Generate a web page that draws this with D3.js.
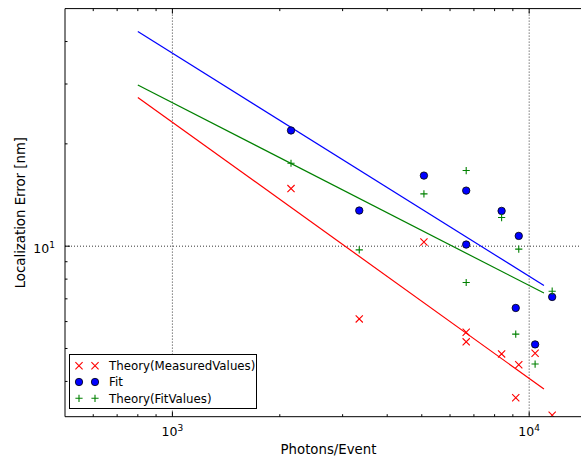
<!DOCTYPE html>
<html>
<head>
<meta charset="utf-8">
<script src="https://cdn.jsdelivr.net/npm/d3@7"></script>
<style>
  html, body { margin: 0; padding: 0; background: #fff; }
  svg { display: block; font-family: "DejaVu Sans", sans-serif; }
</style>
</head>
<body>
<svg id="chart" width="581" height="458"></svg>
<script>
// Photon counts per event for each measurement
const photons = [2150, 3340, 5070, 6660, 6660, 8370, 9350, 9170, 10390, 11600];
// Localization error [nm] per measurement
const theoryMeasured = [14.77, 6.11, 10.29, 5.58, 5.23, 4.82, 4.48, 3.58, 4.84, 3.18];
const fitValues      = [21.9, 12.73, 16.13, 14.57, 10.11, 12.70, 10.72, 6.58, 5.14, 7.09];
const theoryFit      = [17.54, 9.75, 14.25, 16.69, 7.82, 12.14, 9.80, 5.51, 4.50, 7.37];

// Power-law trend lines (end points in data units)
const lineX          = [800, 11000];
const lineFit        = [42.8, 7.66];
const lineTheoryFit  = [29.8, 7.28];
const lineTheoryMeas = [27.4, 3.80];

const xTickValues = [1000, 10000];
const xTickLabels = ["3", "4"];
const yTickValues = [10];
const yTickLabels = ["1"];

const svg = d3.select("#chart");
const pLeft = 65, pTop = 8.6, pRight = 592, pBottom = 416.7;

const x = d3.scaleLog().domain([500, 15000]).range([pLeft, pRight]);
const y = d3.scaleLog().domain([3.15, 50]).range([pBottom, pTop]);

svg.append("defs").append("clipPath").attr("id", "plotclip")
  .append("rect").attr("x", pLeft).attr("y", pTop)
  .attr("width", pRight - pLeft).attr("height", pBottom - pTop);

const plot = svg.append("g").attr("clip-path", "url(#plotclip)");

// dotted grid at major decades
plot.selectAll("line.gx").data(xTickValues).join("line")
  .attr("x1", d => x(d)).attr("x2", d => x(d))
  .attr("y1", pTop).attr("y2", pBottom)
  .attr("stroke", "#000").attr("stroke-width", 0.8).attr("stroke-dasharray", "1,2");
plot.selectAll("line.gy").data(yTickValues).join("line")
  .attr("y1", d => y(d)).attr("y2", d => y(d))
  .attr("x1", pLeft).attr("x2", pRight)
  .attr("stroke", "#000").attr("stroke-width", 0.8).attr("stroke-dasharray", "1,2");

// trend lines
const lines = [
  { ys: lineFit, color: "#0000ff" },
  { ys: lineTheoryFit, color: "#008000" },
  { ys: lineTheoryMeas, color: "#ff0000" }
];
const lineGen = d3.line().x(d => x(d[0])).y(d => y(d[1]));
lines.forEach(l => {
  plot.append("path")
    .attr("d", lineGen(lineX.map((v, i) => [v, l.ys[i]])))
    .attr("fill", "none").attr("stroke", l.color).attr("stroke-width", 1.2);
});

// marker drawing helpers
function drawX(g, cx, cy, s, color) {
  g.append("path")
    .attr("d", `M${cx - s},${cy - s}L${cx + s},${cy + s}M${cx - s},${cy + s}L${cx + s},${cy - s}`)
    .attr("stroke", color).attr("stroke-width", 1.1).attr("fill", "none");
}
function drawPlus(g, cx, cy, s, color) {
  g.append("path")
    .attr("d", `M${cx - s},${cy}L${cx + s},${cy}M${cx},${cy - s}L${cx},${cy + s}`)
    .attr("stroke", color).attr("stroke-width", 1.1).attr("fill", "none");
}
function drawDot(g, cx, cy, r) {
  g.append("circle").attr("cx", cx).attr("cy", cy).attr("r", r)
    .attr("fill", "#0000ff").attr("stroke", "#000").attr("stroke-width", 0.8);
}

photons.forEach((p, i) => drawX(plot, x(p), y(theoryMeasured[i]), 3.6, "#ff0000"));
photons.forEach((p, i) => drawDot(plot, x(p), y(fitValues[i]), 3.7));
photons.forEach((p, i) => drawPlus(plot, x(p), y(theoryFit[i]), 3.6, "#008000"));

// axes frame
const axes = svg.append("g");
axes.append("line").attr("x1", pLeft).attr("x2", pLeft).attr("y1", pTop).attr("y2", pBottom)
  .attr("stroke", "#000").attr("stroke-width", 1);
axes.append("line").attr("x1", pLeft).attr("x2", pRight).attr("y1", pBottom).attr("y2", pBottom)
  .attr("stroke", "#000").attr("stroke-width", 1);
axes.append("line").attr("x1", pLeft).attr("x2", pRight).attr("y1", pTop).attr("y2", pTop)
  .attr("stroke", "#000").attr("stroke-width", 1);

// inward ticks (major + minor) on bottom/top and left
const xMinor = [];
[100, 1000, 10000].forEach(dec => { for (let k = 2; k <= 9; k++) { const v = dec * k; if (v > 500 && v < 15000) xMinor.push(v); } });
const yMinor = [];
[1, 10].forEach(dec => { for (let k = 2; k <= 9; k++) { const v = dec * k; if (v > 3.15 && v < 50) yMinor.push(v); } });

function xTicks(vals, len) {
  vals.forEach(v => {
    const px = x(v);
    axes.append("line").attr("x1", px).attr("x2", px).attr("y1", pBottom).attr("y2", pBottom - len).attr("stroke", "#000");
    axes.append("line").attr("x1", px).attr("x2", px).attr("y1", pTop).attr("y2", pTop + len).attr("stroke", "#000");
  });
}
function yTicks(vals, len) {
  vals.forEach(v => {
    const py = y(v);
    axes.append("line").attr("x1", pLeft).attr("x2", pLeft + len).attr("y1", py).attr("y2", py).attr("stroke", "#000");
  });
}
xTicks(xTickValues, 5);
xTicks(xMinor, 2.5);
yTicks(yTickValues, 5);
yTicks(yMinor, 2.5);

// tick labels as 10^n
xTickValues.forEach((v, i) => {
  const t = axes.append("text").attr("x", x(v)).attr("y", 436)
    .attr("text-anchor", "middle").attr("font-size", 12.5).attr("fill", "#000");
  t.append("tspan").text("10");
  t.append("tspan").attr("dy", -5).attr("font-size", 9).text(xTickLabels[i]);
});
yTickValues.forEach((v, i) => {
  const t = axes.append("text").attr("x", 55).attr("y", y(v) + 6.5)
    .attr("text-anchor", "end").attr("font-size", 12.5).attr("fill", "#000");
  t.append("tspan").text("10");
  t.append("tspan").attr("dy", -5).attr("font-size", 9).text(yTickLabels[i]);
});

// axis titles
svg.append("text").attr("x", (pLeft + pRight) / 2).attr("y", 454)
  .attr("text-anchor", "middle").attr("font-size", 13.3).text("Photons/Event");
svg.append("text").attr("transform", `translate(25,${(pTop + pBottom) / 2}) rotate(-90)`)
  .attr("text-anchor", "middle").attr("font-size", 13.3).text("Localization Error [nm]");

// legend
const legendItems = [
  { label: "Theory(MeasuredValues)", kind: "x" },
  { label: "Fit", kind: "o" },
  { label: "Theory(FitValues)", kind: "+" }
];
const lg = svg.append("g");
lg.append("rect").attr("x", 69.5).attr("y", 354.5).attr("width", 187).attr("height", 54)
  .attr("fill", "#fff").attr("stroke", "#000").attr("stroke-width", 1);
legendItems.forEach((it, i) => {
  const cy = 365.7 + i * 16.3;
  [79, 95].forEach(cx => {
    if (it.kind === "x") drawX(lg, cx, cy, 3.6, "#ff0000");
    else if (it.kind === "o") drawDot(lg, cx, cy, 3.7);
    else drawPlus(lg, cx, cy, 3.6, "#008000");
  });
  lg.append("text").attr("x", 109).attr("y", cy + 4.3).attr("font-size", 11.8).text(it.label);
});
</script>
</body>
</html>
